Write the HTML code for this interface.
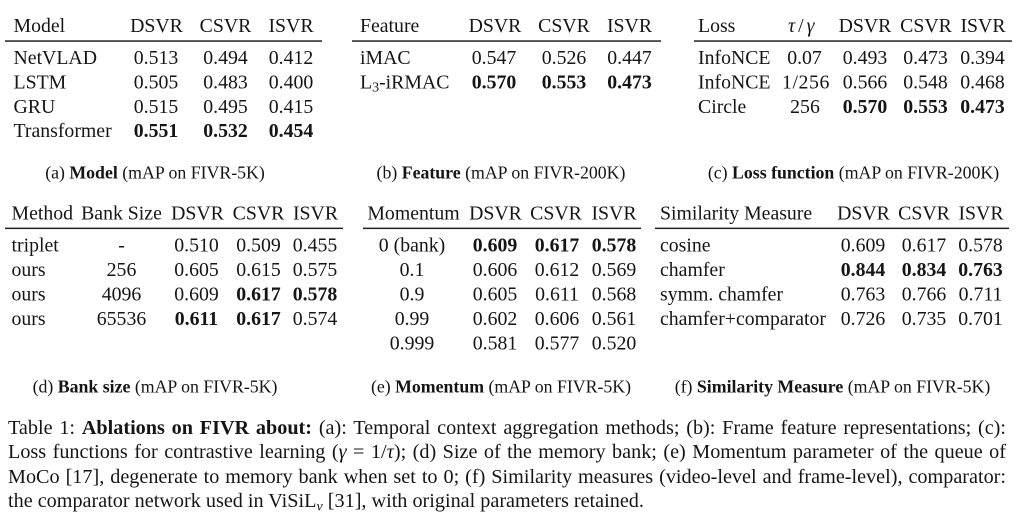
<!DOCTYPE html>
<html><head><meta charset="utf-8">
<style>
html,body{margin:0;padding:0;background:#fff;}
body{width:1024px;height:522px;position:relative;overflow:hidden;}
svg{position:absolute;left:0;top:0;}
svg text{font-family:"Liberation Serif","Times New Roman",serif;fill:#151515;}
.t{font-size:19.8px;}
.c{font-size:17.8px;}
.m{text-anchor:middle;}
.b{font-weight:bold;}
#cap{position:absolute;left:8px;top:416px;width:998px;font-family:"Liberation Serif","Times New Roman",serif;font-size:20.2px;color:#151515;}
#cap div{height:24.4px;line-height:24.4px;white-space:nowrap;}
#cap .j{text-align:justify;text-align-last:justify;white-space:normal;}
#cap sub{font-size:70%;line-height:0;vertical-align:-0.25em;font-style:italic;}
</style></head><body>
<svg width="1024" height="522" viewBox="0 0 1024 522">
<!-- (a) -->
<g class="t">
<text x="13.5" y="32">Model</text>
<text class="m" x="156.5" y="32">DSVR</text>
<text class="m" x="225.5" y="32">CSVR</text>
<text class="m" x="291" y="32">ISVR</text>
<text x="13.5" y="64">NetVLAD</text>
<text class="m" x="156" y="64">0.513</text>
<text class="m" x="225.5" y="64">0.494</text>
<text class="m" x="291" y="64">0.412</text>
<text x="13.5" y="88.4">LSTM</text>
<text class="m" x="156" y="88.4">0.505</text>
<text class="m" x="225.5" y="88.4">0.483</text>
<text class="m" x="291" y="88.4">0.400</text>
<text x="13.5" y="112.8">GRU</text>
<text class="m" x="156" y="112.8">0.515</text>
<text class="m" x="225.5" y="112.8">0.495</text>
<text class="m" x="291" y="112.8">0.415</text>
<text x="13.5" y="137.2">Transformer</text>
<text class="m b" x="156" y="137.2">0.551</text>
<text class="m b" x="225.5" y="137.2">0.532</text>
<text class="m b" x="291" y="137.2">0.454</text>
</g>
<rect x="5" y="40.3" width="317" height="1.5" fill="#222"/>
<text class="c m" x="155" y="178.5">(a) <tspan class="b">Model</tspan> (mAP on FIVR-5K)</text>

<!-- (b) -->
<g class="t">
<text x="360" y="32">Feature</text>
<text class="m" x="495" y="32">DSVR</text>
<text class="m" x="564" y="32">CSVR</text>
<text class="m" x="629.5" y="32">ISVR</text>
<text x="360" y="64">iMAC</text>
<text class="m" x="494" y="64">0.547</text>
<text class="m" x="564" y="64">0.526</text>
<text class="m" x="629.5" y="64">0.447</text>
<text x="360" y="88.4">L<tspan font-size="14" dy="3">3</tspan><tspan dy="-3">-iRMAC</tspan></text>
<text class="m b" x="494" y="88.4">0.570</text>
<text class="m b" x="564" y="88.4">0.553</text>
<text class="m b" x="629.5" y="88.4">0.473</text>
</g>
<rect x="352" y="40.3" width="309" height="1.5" fill="#222"/>
<text class="c m" x="501" y="178.5">(b) <tspan class="b">Feature</tspan> (mAP on FIVR-200K)</text>

<!-- (c) -->
<g class="t">
<text x="698" y="32">Loss</text>
<text x="788" y="32"><tspan font-style="italic">τ</tspan><tspan dx="3">/</tspan><tspan dx="3" font-style="italic">γ</tspan></text>
<text class="m" x="865" y="32">DSVR</text>
<text class="m" x="926" y="32">CSVR</text>
<text class="m" x="983" y="32">ISVR</text>
<text x="698" y="64">InfoNCE</text>
<text class="m" x="804.5" y="64">0.07</text>
<text class="m" x="865" y="64">0.493</text>
<text class="m" x="925.5" y="64">0.473</text>
<text class="m" x="982.5" y="64">0.394</text>
<text x="698" y="88.4">InfoNCE</text>
<text class="m" x="806" y="88.4" letter-spacing="0.6">1/256</text>
<text class="m" x="865" y="88.4">0.566</text>
<text class="m" x="925.5" y="88.4">0.548</text>
<text class="m" x="982.5" y="88.4">0.468</text>
<text x="698" y="112.8">Circle</text>
<text class="m" x="805" y="112.8">256</text>
<text class="m b" x="865" y="112.8">0.570</text>
<text class="m b" x="925.5" y="112.8">0.553</text>
<text class="m b" x="982.5" y="112.8">0.473</text>
</g>
<rect x="694" y="40.3" width="318" height="1.5" fill="#222"/>
<text class="c m" x="853.5" y="178.5">(c) <tspan class="b">Loss function</tspan> (mAP on FIVR-200K)</text>

<!-- (d) -->
<g class="t">
<text x="11.5" y="219.5">Method</text>
<text class="m" x="121.5" y="219.5">Bank Size</text>
<text class="m" x="197.5" y="219.5">DSVR</text>
<text class="m" x="258.5" y="219.5">CSVR</text>
<text class="m" x="315.5" y="219.5">ISVR</text>
<text x="11.5" y="251.7">triplet</text>
<text class="m" x="121.5" y="251.7">-</text>
<text class="m" x="196.5" y="251.7">0.510</text>
<text class="m" x="258.5" y="251.7">0.509</text>
<text class="m" x="315" y="251.7">0.455</text>
<text x="11.5" y="276.1">ours</text>
<text class="m" x="121.5" y="276.1">256</text>
<text class="m" x="196.5" y="276.1">0.605</text>
<text class="m" x="258.5" y="276.1">0.615</text>
<text class="m" x="315" y="276.1">0.575</text>
<text x="11.5" y="300.5">ours</text>
<text class="m" x="121.5" y="300.5">4096</text>
<text class="m" x="196.5" y="300.5">0.609</text>
<text class="m b" x="258.5" y="300.5">0.617</text>
<text class="m b" x="315" y="300.5">0.578</text>
<text x="11.5" y="324.9">ours</text>
<text class="m" x="121.5" y="324.9">65536</text>
<text class="m b" x="196.5" y="324.9">0.611</text>
<text class="m b" x="258.5" y="324.9">0.617</text>
<text class="m" x="315" y="324.9">0.574</text>
</g>
<rect x="5" y="227.6" width="338" height="1.5" fill="#222"/>
<text class="c m" x="155" y="392.5">(d) <tspan class="b">Bank size</tspan> (mAP on FIVR-5K)</text>

<!-- (e) -->
<g class="t">
<text class="m" x="413.5" y="219.5">Momentum</text>
<text class="m" x="495.5" y="219.5">DSVR</text>
<text class="m" x="556" y="219.5">CSVR</text>
<text class="m" x="614" y="219.5">ISVR</text>
<text class="m" x="412" y="251.7">0 (bank)</text>
<text class="m b" x="495" y="251.7">0.609</text>
<text class="m b" x="557" y="251.7">0.617</text>
<text class="m b" x="614" y="251.7">0.578</text>
<text class="m" x="412" y="276.1">0.1</text>
<text class="m" x="495" y="276.1">0.606</text>
<text class="m" x="557" y="276.1">0.612</text>
<text class="m" x="614" y="276.1">0.569</text>
<text class="m" x="412" y="300.5">0.9</text>
<text class="m" x="495" y="300.5">0.605</text>
<text class="m" x="557" y="300.5">0.611</text>
<text class="m" x="614" y="300.5">0.568</text>
<text class="m" x="412" y="324.9">0.99</text>
<text class="m" x="495" y="324.9">0.602</text>
<text class="m" x="557" y="324.9">0.606</text>
<text class="m" x="614" y="324.9">0.561</text>
<text class="m" x="412" y="349.3">0.999</text>
<text class="m" x="495" y="349.3">0.581</text>
<text class="m" x="557" y="349.3">0.577</text>
<text class="m" x="614" y="349.3">0.520</text>
</g>
<rect x="363" y="227.6" width="278" height="1.5" fill="#222"/>
<text class="c m" x="501" y="392.5">(e) <tspan class="b">Momentum</tspan> (mAP on FIVR-5K)</text>

<!-- (f) -->
<g class="t">
<text x="660" y="219.5">Similarity Measure</text>
<text class="m" x="863.5" y="219.5">DSVR</text>
<text class="m" x="924" y="219.5">CSVR</text>
<text class="m" x="981" y="219.5">ISVR</text>
<text x="660" y="251.7">cosine</text>
<text class="m" x="863" y="251.7">0.609</text>
<text class="m" x="924" y="251.7">0.617</text>
<text class="m" x="980.5" y="251.7">0.578</text>
<text x="660" y="276.1">chamfer</text>
<text class="m b" x="863" y="276.1">0.844</text>
<text class="m b" x="924" y="276.1">0.834</text>
<text class="m b" x="980.5" y="276.1">0.763</text>
<text x="660" y="300.5">symm. chamfer</text>
<text class="m" x="863" y="300.5">0.763</text>
<text class="m" x="924" y="300.5">0.766</text>
<text class="m" x="980.5" y="300.5">0.711</text>
<text x="660" y="324.9">chamfer+comparator</text>
<text class="m" x="863" y="324.9">0.726</text>
<text class="m" x="924" y="324.9">0.735</text>
<text class="m" x="980.5" y="324.9">0.701</text>
</g>
<rect x="655" y="227.6" width="354" height="1.5" fill="#222"/>
<text class="c m" x="832.5" y="392.5">(f) <tspan class="b">Similarity Measure</tspan> (mAP on FIVR-5K)</text>
</svg>

<div id="cap">
<div class="j">Table 1: <b>Ablations on FIVR about:</b> (a): Temporal context aggregation methods; (b): Frame feature representations; (c):</div>
<div class="j">Loss functions for contrastive learning (<i>γ</i> = 1/<i>τ</i>); (d) Size of the memory bank; (e) Momentum parameter of the queue of</div>
<div class="j">MoCo [17], degenerate to memory bank when set to 0; (f) Similarity measures (video-level and frame-level), comparator:</div>
<div>the comparator network used in ViSiL<sub>v</sub> [31], with original parameters retained.</div>
</div>
</body></html>
